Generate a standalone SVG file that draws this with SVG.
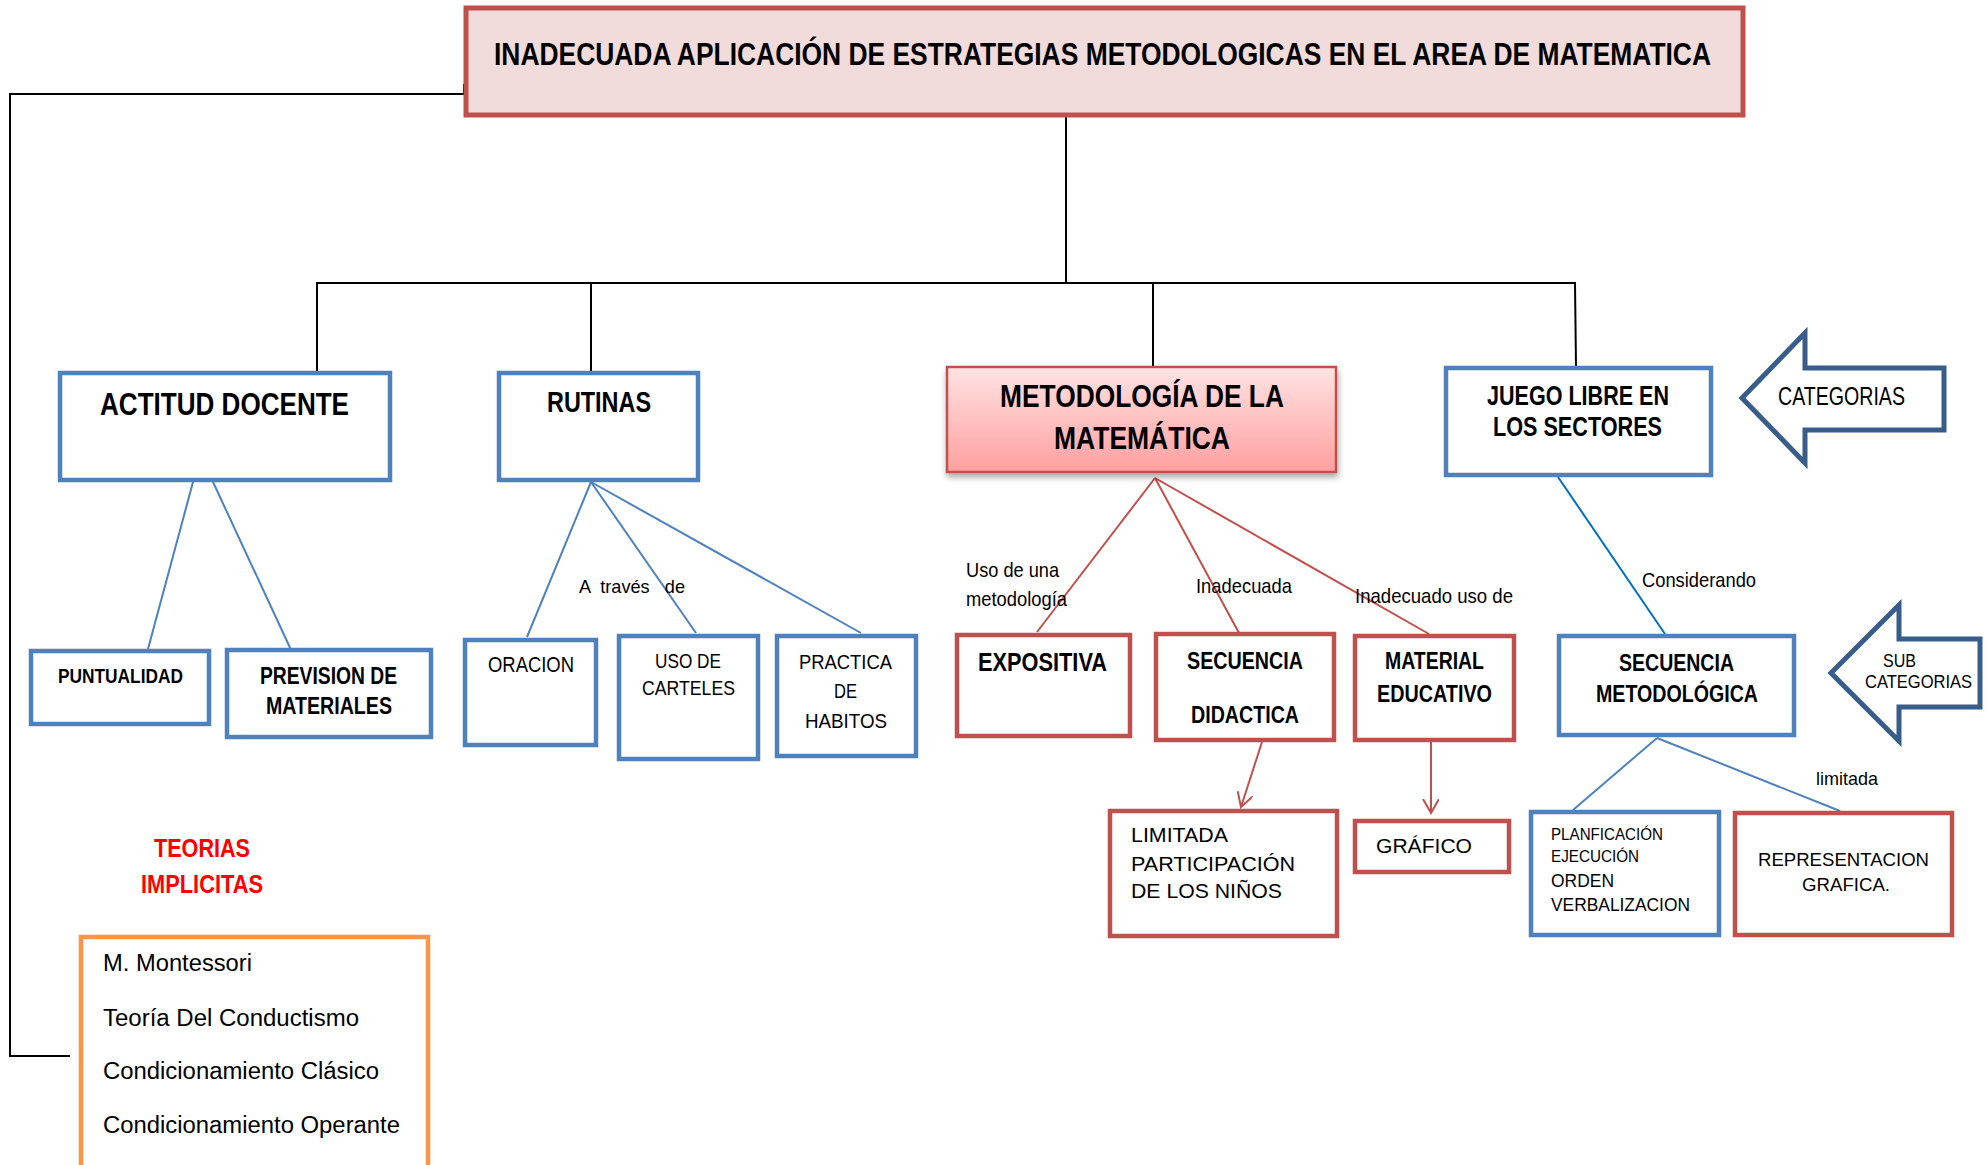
<svg xmlns="http://www.w3.org/2000/svg" width="1988" height="1165" viewBox="0 0 1988 1165">
<style>
.n{font-family:"Liberation Sans Narrow","Liberation Sans",Arial,sans-serif;fill:#000}
.b{font-weight:bold}
.r{font-family:"Liberation Sans",Arial,sans-serif;fill:#000}
.bl{fill:#fff;stroke:#4F81BD;stroke-width:4.5}
.rd{fill:#fff;stroke:#C0504D;stroke-width:4.5}
.ar{fill:#fff;stroke:#385D8A;stroke-width:5}
.k{stroke:#000;stroke-width:2;fill:none}
.lb{stroke:#4F81BD;stroke-width:2;fill:none}
.lr{stroke:#C0504D;stroke-width:2;fill:none}
</style>
<defs>
<linearGradient id="pg" x1="0" y1="0" x2="0" y2="1">
<stop offset="0" stop-color="#FFE3E3"/>
<stop offset="1" stop-color="#FF9F9F"/>
</linearGradient>
<filter id="sh" x="-5%" y="-5%" width="112%" height="125%">
<feDropShadow dx="1" dy="4" stdDeviation="3" flood-color="#000" flood-opacity="0.35"/>
</filter>
<marker id="va" markerUnits="userSpaceOnUse" markerWidth="20" markerHeight="20" refX="14" refY="8" orient="auto">
<path d="M0,0 L14,8 L0,16" fill="none" stroke="#C0504D" stroke-width="2"/>
</marker>
</defs>

<g id="connectors">
<polyline class="k" points="464,84 464,94 10,94 10,1056 70,1056"/>
<line class="k" x1="1066" y1="117" x2="1066" y2="283"/>
<polyline class="k" points="317,371 317,283 1575,283 1576,366"/>
<line class="k" x1="591" y1="283" x2="591" y2="371"/>
<line class="k" x1="1153" y1="283" x2="1153" y2="366"/>
<line class="lb" x1="193" y1="482" x2="148" y2="649"/>
<line class="lb" x1="213" y1="482" x2="292" y2="652"/>
<line class="lb" x1="591" y1="482" x2="527" y2="637"/>
<line class="lb" x1="591" y1="482" x2="696" y2="633"/>
<line class="lb" x1="591" y1="482" x2="861" y2="633"/>
<line class="lr" x1="1155" y1="478" x2="1037" y2="632"/>
<line class="lr" x1="1155" y1="478" x2="1239" y2="633"/>
<line class="lr" x1="1155" y1="478" x2="1429" y2="634"/>
<line class="lr" x1="1262" y1="742" x2="1241" y2="807" marker-end="url(#va)"/>
<line class="lr" x1="1431" y1="742" x2="1431" y2="813" marker-end="url(#va)"/>
<line x1="1558" y1="477" x2="1665" y2="634" stroke="#0070C0" stroke-width="2"/>
<line class="lb" x1="1657" y1="738" x2="1573" y2="810"/>
<line class="lb" x1="1657" y1="738" x2="1840" y2="811"/>
<text class="n" x="579" y="593" font-size="19" textLength="106" lengthAdjust="spacingAndGlyphs" xml:space="preserve">A  través   de</text>
<text class="n" x="966" y="577" font-size="21" textLength="93" lengthAdjust="spacingAndGlyphs">Uso de una</text>
<text class="n" x="966" y="606" font-size="21" textLength="101" lengthAdjust="spacingAndGlyphs">metodología</text>
<text class="n" x="1196" y="593" font-size="21" textLength="96" lengthAdjust="spacingAndGlyphs">Inadecuada</text>
<text class="n" x="1355" y="603" font-size="21" textLength="158" lengthAdjust="spacingAndGlyphs">Inadecuado uso de</text>
<text class="n" x="1642" y="587" font-size="21" textLength="114" lengthAdjust="spacingAndGlyphs">Considerando</text>
<text class="n" x="1816" y="785" font-size="19" textLength="62" lengthAdjust="spacingAndGlyphs">limitada</text>
</g>

<g id="title">
<rect x="466" y="8" width="1277" height="107" fill="#F2DCDB" stroke="#C0504D" stroke-width="5"/>
<text class="n b" x="494" y="65" font-size="32" textLength="1217" lengthAdjust="spacingAndGlyphs">INADECUADA APLICACIÓN DE ESTRATEGIAS METODOLOGICAS EN EL AREA DE MATEMATICA</text>
</g>

<g id="actitud">
<rect class="bl" x="60" y="373" width="330" height="107"/>
<text class="n b" x="100" y="415" font-size="31" textLength="249" lengthAdjust="spacingAndGlyphs">ACTITUD DOCENTE</text>
</g>
<g id="rutinas">
<rect class="bl" x="499" y="373" width="199" height="107"/>
<text class="n b" x="547" y="412" font-size="30" textLength="104" lengthAdjust="spacingAndGlyphs">RUTINAS</text>
</g>
<g id="metodologia">
<rect x="947" y="367" width="389" height="105" fill="url(#pg)" stroke="#C0504D" stroke-width="2.5" filter="url(#sh)"/>
<text class="n b" x="1000" y="407" font-size="31" textLength="284" lengthAdjust="spacingAndGlyphs">METODOLOGÍA DE LA</text>
<text class="n b" x="1054" y="449" font-size="31" textLength="176" lengthAdjust="spacingAndGlyphs">MATEMÁTICA</text>
</g>
<g id="juego">
<rect class="bl" x="1446" y="368" width="265" height="107"/>
<text class="n b" x="1487" y="405" font-size="27" textLength="182" lengthAdjust="spacingAndGlyphs">JUEGO LIBRE EN</text>
<text class="n b" x="1493" y="436" font-size="27" textLength="169" lengthAdjust="spacingAndGlyphs">LOS SECTORES</text>
</g>
<g id="categorias">
<polygon class="ar" points="1742,398 1805,333 1805,368 1944,368 1944,430 1805,430 1805,463"/>
<text class="n" x="1778" y="405" font-size="25" textLength="127" lengthAdjust="spacingAndGlyphs">CATEGORIAS</text>
</g>
<g id="subcategorias">
<polygon class="ar" points="1831,673 1899,605 1899,639 1980,639 1980,707 1899,707 1899,741"/>
<text class="n" x="1883" y="667" font-size="19" textLength="33" lengthAdjust="spacingAndGlyphs">SUB</text>
<text class="n" x="1865" y="688" font-size="19" textLength="107" lengthAdjust="spacingAndGlyphs">CATEGORIAS</text>
</g>

<g id="puntualidad">
<rect class="bl" x="31" y="651" width="178" height="73"/>
<text class="n b" x="58" y="683" font-size="21" textLength="125" lengthAdjust="spacingAndGlyphs">PUNTUALIDAD</text>
</g>
<g id="prevision">
<rect class="bl" x="227" y="650" width="204" height="87"/>
<text class="n b" x="260" y="684" font-size="24" textLength="137" lengthAdjust="spacingAndGlyphs">PREVISION DE</text>
<text class="n b" x="266" y="714" font-size="24" textLength="126" lengthAdjust="spacingAndGlyphs">MATERIALES</text>
</g>
<g id="oracion">
<rect class="bl" x="465" y="640" width="131" height="105"/>
<text class="n" x="488" y="672" font-size="22" textLength="86" lengthAdjust="spacingAndGlyphs">ORACION</text>
</g>
<g id="carteles">
<rect class="bl" x="619" y="636" width="139" height="123"/>
<text class="n" x="655" y="668" font-size="21" textLength="66" lengthAdjust="spacingAndGlyphs">USO DE</text>
<text class="n" x="642" y="695" font-size="21" textLength="93" lengthAdjust="spacingAndGlyphs">CARTELES</text>
</g>
<g id="practica">
<rect class="bl" x="777" y="636" width="139" height="120"/>
<text class="n" x="799" y="669" font-size="21" textLength="93" lengthAdjust="spacingAndGlyphs">PRACTICA</text>
<text class="n" x="834" y="698" font-size="21" textLength="23" lengthAdjust="spacingAndGlyphs">DE</text>
<text class="n" x="805" y="728" font-size="21" textLength="82" lengthAdjust="spacingAndGlyphs">HABITOS</text>
</g>
<g id="expositiva">
<rect class="rd" x="957" y="635" width="173" height="101"/>
<text class="n b" x="978" y="671" font-size="25" textLength="129" lengthAdjust="spacingAndGlyphs">EXPOSITIVA</text>
</g>
<g id="secuencia-didactica">
<rect class="rd" x="1156" y="634" width="178" height="106"/>
<text class="n b" x="1187" y="669" font-size="24" textLength="116" lengthAdjust="spacingAndGlyphs">SECUENCIA</text>
<text class="n b" x="1191" y="723" font-size="24" textLength="108" lengthAdjust="spacingAndGlyphs">DIDACTICA</text>
</g>
<g id="material">
<rect class="rd" x="1355" y="636" width="159" height="104"/>
<text class="n b" x="1385" y="669" font-size="24" textLength="99" lengthAdjust="spacingAndGlyphs">MATERIAL</text>
<text class="n b" x="1377" y="702" font-size="24" textLength="115" lengthAdjust="spacingAndGlyphs">EDUCATIVO</text>
</g>
<g id="secuencia-metodologica">
<rect class="bl" x="1559" y="636" width="235" height="99"/>
<text class="n b" x="1619" y="671" font-size="24" textLength="115" lengthAdjust="spacingAndGlyphs">SECUENCIA</text>
<text class="n b" x="1596" y="702" font-size="24" textLength="162" lengthAdjust="spacingAndGlyphs">METODOLÓGICA</text>
</g>
<g id="limitada-participacion">
<rect class="rd" x="1110" y="811" width="227" height="125"/>
<text class="n" x="1131" y="842" font-size="21" textLength="97" lengthAdjust="spacingAndGlyphs">LIMITADA</text>
<text class="n" x="1131" y="871" font-size="21" textLength="164" lengthAdjust="spacingAndGlyphs">PARTICIPACIÓN</text>
<text class="n" x="1131" y="898" font-size="21" textLength="151" lengthAdjust="spacingAndGlyphs">DE LOS NIÑOS</text>
</g>
<g id="grafico">
<rect class="rd" x="1355" y="821" width="154" height="51"/>
<text class="n" x="1376" y="853" font-size="21" textLength="96" lengthAdjust="spacingAndGlyphs">GRÁFICO</text>
</g>
<g id="planificacion">
<rect class="bl" x="1531" y="812" width="188" height="123"/>
<text class="n" x="1551" y="840" font-size="16" textLength="112" lengthAdjust="spacingAndGlyphs">PLANFICACIÓN</text>
<text class="n" x="1551" y="862" font-size="16" textLength="88" lengthAdjust="spacingAndGlyphs">EJECUCIÓN</text>
<text class="n" x="1551" y="887" font-size="19" textLength="63" lengthAdjust="spacingAndGlyphs">ORDEN</text>
<text class="n" x="1551" y="911" font-size="19" textLength="139" lengthAdjust="spacingAndGlyphs">VERBALIZACION</text>
</g>
<g id="representacion">
<rect class="rd" x="1735" y="813" width="217" height="122"/>
<text class="n" x="1758" y="866" font-size="18.5" textLength="171" lengthAdjust="spacingAndGlyphs">REPRESENTACION</text>
<text class="n" x="1802" y="891" font-size="18.5" textLength="88" lengthAdjust="spacingAndGlyphs">GRAFICA.</text>
</g>

<g id="teorias">
<text class="n b" x="154" y="857" font-size="26" fill="#FF0000" style="fill:#FF0000" textLength="96" lengthAdjust="spacingAndGlyphs">TEORIAS</text>
<text class="n b" x="141" y="893" font-size="26" style="fill:#FF0000" textLength="122" lengthAdjust="spacingAndGlyphs">IMPLICITAS</text>
</g>
<g id="teorias-lista">
<rect x="81" y="937" width="347" height="240" fill="#fff" stroke="#F79646" stroke-width="4.5"/>
<text class="n" x="103" y="971" font-size="23" textLength="149" lengthAdjust="spacingAndGlyphs">M. Montessori</text>
<text class="n" x="103" y="1026" font-size="23" textLength="256" lengthAdjust="spacingAndGlyphs">Teoría Del Conductismo</text>
<text class="n" x="103" y="1079" font-size="23" textLength="276" lengthAdjust="spacingAndGlyphs">Condicionamiento Clásico</text>
<text class="n" x="103" y="1133" font-size="23" textLength="297" lengthAdjust="spacingAndGlyphs">Condicionamiento Operante</text>
</g>
</svg>
